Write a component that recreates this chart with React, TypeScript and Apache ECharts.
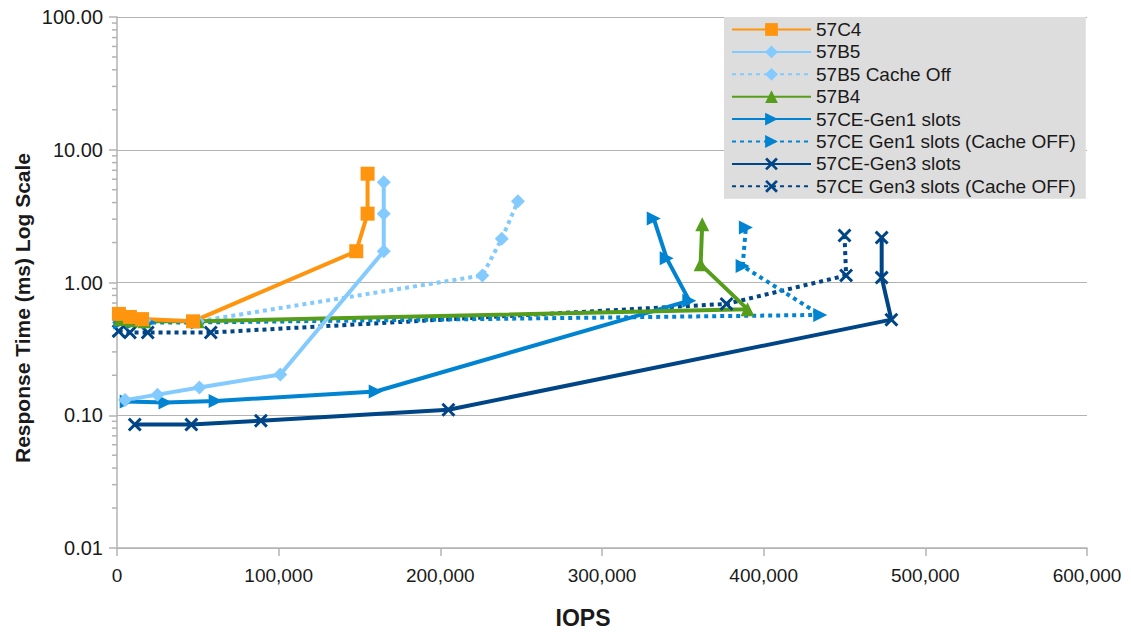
import React, { useEffect, useRef } from "react";
import * as echarts from "echarts";

const seriesNames = [
  "57C4",
  "57B5",
  "57B5 Cache Off",
  "57B4",
  "57CE-Gen1 slots",
  "57CE Gen1 slots (Cache OFF)",
  "57CE-Gen3 slots",
  "57CE Gen3 slots (Cache OFF)",
];

const c4X = [1200, 8000, 15500, 47000, 148000, 155000, 155000];
const c4Y = [0.58, 0.55, 0.53, 0.51, 1.72, 3.3, 6.6];

const b5X = [5000, 25000, 51000, 101000, 165000, 165000, 165000];
const b5Y = [0.13, 0.143, 0.162, 0.203, 1.72, 3.3, 5.7];

const b5OffX = [2000, 9000, 17000, 50000, 226000, 238000, 248000];
const b5OffY = [0.56, 0.53, 0.52, 0.51, 1.13, 2.14, 4.1];

const b4X = [2000, 9000, 17000, 50000, 390000, 361000, 362000];
const b4Y = [0.53, 0.52, 0.51, 0.51, 0.63, 1.37, 2.75];

const gen1X = [6000, 30000, 61000, 160000, 354000, 340000, 332000];
const gen1Y = [0.127, 0.125, 0.128, 0.151, 0.73, 1.52, 3.03];

const gen1OffX = [2000, 10000, 20000, 50000, 435000, 387000, 389000];
const gen1OffY = [0.5, 0.5, 0.5, 0.5, 0.57, 1.33, 2.6];

const gen3X = [11000, 46000, 89000, 205000, 479000, 473000, 473000];
const gen3Y = [0.085, 0.085, 0.091, 0.11, 0.525, 1.09, 2.18];

const gen3OffX = [1000, 8000, 19000, 58000, 377000, 451000, 450000];
const gen3OffY = [0.43, 0.42, 0.42, 0.42, 0.69, 1.13, 2.26];

const minorTickValues = [0.01, 0.1, 1, 10].flatMap((d) =>
  [2, 3, 4, 5, 6, 7, 8, 9].map((m) => +(d * m).toPrecision(3))
);

const ORANGE = "#ff950e";
const LIGHT = "#83caff";
const GREEN = "#579d1c";
const BLUE = "#0084d1";
const NAVY = "#004586";

const XSYM =
  "path://M1.5,0 L5,3.5 L8.5,0 L10,1.5 L6.5,5 L10,8.5 L8.5,10 L5,6.5 L1.5,10 L0,8.5 L3.5,5 L0,1.5 Z";

const zip = (xs: number[], ys: number[]) => xs.map((x, i) => [x, ys[i]]);

const FONT = "'Liberation Sans', Arial, sans-serif";
const TEXT = "#1a1a1a";
const GRAY = "#b3b3b3";

export default function App() {
  const ref = useRef<HTMLDivElement>(null);
  useEffect(() => {
    document.body.style.margin = "0";
    if (!ref.current) return;
    const chart = echarts.init(ref.current, undefined, { renderer: "svg" });
    const mk = (
      name: string,
      xs: number[],
      ys: number[],
      color: string,
      symbol: string,
      size: number,
      dotted: boolean,
      rotate = 0
    ) => ({
      name,
      type: "line",
      data: zip(xs, ys),
      symbol,
      symbolSize: size,
      symbolRotate: rotate,
      showSymbol: true,
      itemStyle: { color, borderWidth: 0 },
      lineStyle: {
        color,
        width: 4,
        type: dotted ? [4, 4] : "solid",
        cap: "butt",
      },
      emphasis: { disabled: true },
    });
    chart.setOption({
      animation: false,
      textStyle: { fontFamily: FONT },
      grid: { left: 117, right: 44, top: 17, bottom: 84, containLabel: false },
      legend: {
        data: seriesNames,
        orient: "vertical",
        left: 724,
        top: 17,
        backgroundColor: "#dddddd",
        padding: [3, 10, 3, 7],
        itemWidth: 79,
        itemHeight: 16,
        itemGap: 3.4,
        itemTextGap: 7,
        textStyle: { fontSize: 19, color: TEXT, fontFamily: FONT },
        selectedMode: false,
      },
      graphic: [
        {
          type: "text",
          x: 22,
          y: 308,
          rotation: Math.PI / 2,
          silent: true,
          style: {
            text: "Response Time (ms) Log Scale",
            fontSize: 21,
            fontWeight: "bold",
            fontFamily: FONT,
            fill: TEXT,
            align: "center",
            verticalAlign: "middle",
          },
        },
        {
          type: "text",
          x: 583,
          y: 618,
          silent: true,
          style: {
            text: "IOPS",
            fontSize: 23,
            fontWeight: "bold",
            fontFamily: FONT,
            fill: TEXT,
            align: "center",
            verticalAlign: "middle",
          },
        },
      ],
      xAxis: {
        type: "value",
        min: 0,
        max: 600000,
        interval: 100000,
        axisLine: { show: true, onZero: false, lineStyle: { color: GRAY, width: 1.5 } },
        axisTick: { show: true, length: 8, lineStyle: { color: GRAY, width: 1.5 } },
        axisLabel: {
          fontSize: 19,
          color: TEXT,
          margin: 18,
          formatter: (v: number) => v.toLocaleString("en-US"),
        },
        splitLine: { show: false },
      },
      yAxis: {
        type: "log",
        logBase: 10,
        min: 0.01,
        max: 100,
        axisLine: { show: true, lineStyle: { color: GRAY, width: 1.5 } },
        axisTick: { show: true, length: 8, lineStyle: { color: GRAY, width: 1.5 } },
        axisLabel: {
          fontSize: 20,
          color: TEXT,
          margin: 14,
          formatter: (v: number) => v.toFixed(2),
        },
        splitLine: { show: true, lineStyle: { color: GRAY, width: 1.2 } },
      },
      series: [
        {
          name: "minorTicks",
          type: "custom",
          clip: false,
          silent: true,
          data: minorTickValues.map((v) => [0, v]),
          renderItem: (params: any, api: any) => {
            const p = api.coord([api.value(0), api.value(1)]);
            return {
              type: "line",
              shape: { x1: p[0] - 5, y1: p[1], x2: p[0], y2: p[1] },
              style: { stroke: GRAY, lineWidth: 1.5 },
            };
          },
        },
        mk(seriesNames[7], gen3OffX, gen3OffY, NAVY, XSYM, 14, true),
        mk(seriesNames[6], gen3X, gen3Y, NAVY, XSYM, 14, false),
        mk(seriesNames[5], gen1OffX, gen1OffY, BLUE, "triangle", 14, true, -90),
        mk(seriesNames[4], gen1X, gen1Y, BLUE, "triangle", 14, false, -90),
        mk(seriesNames[2], b5OffX, b5OffY, LIGHT, "diamond", 14, true),
        mk(seriesNames[3], b4X, b4Y, GREEN, "triangle", 14, false),
        mk(seriesNames[1], b5X, b5Y, LIGHT, "diamond", 14, false),
        mk(seriesNames[0], c4X, c4Y, ORANGE, "rect", 14, false),
      ],
    });
    return () => chart.dispose();
  }, []);
  return <div ref={ref} style={{ width: 1131, height: 632 }} />;
}
